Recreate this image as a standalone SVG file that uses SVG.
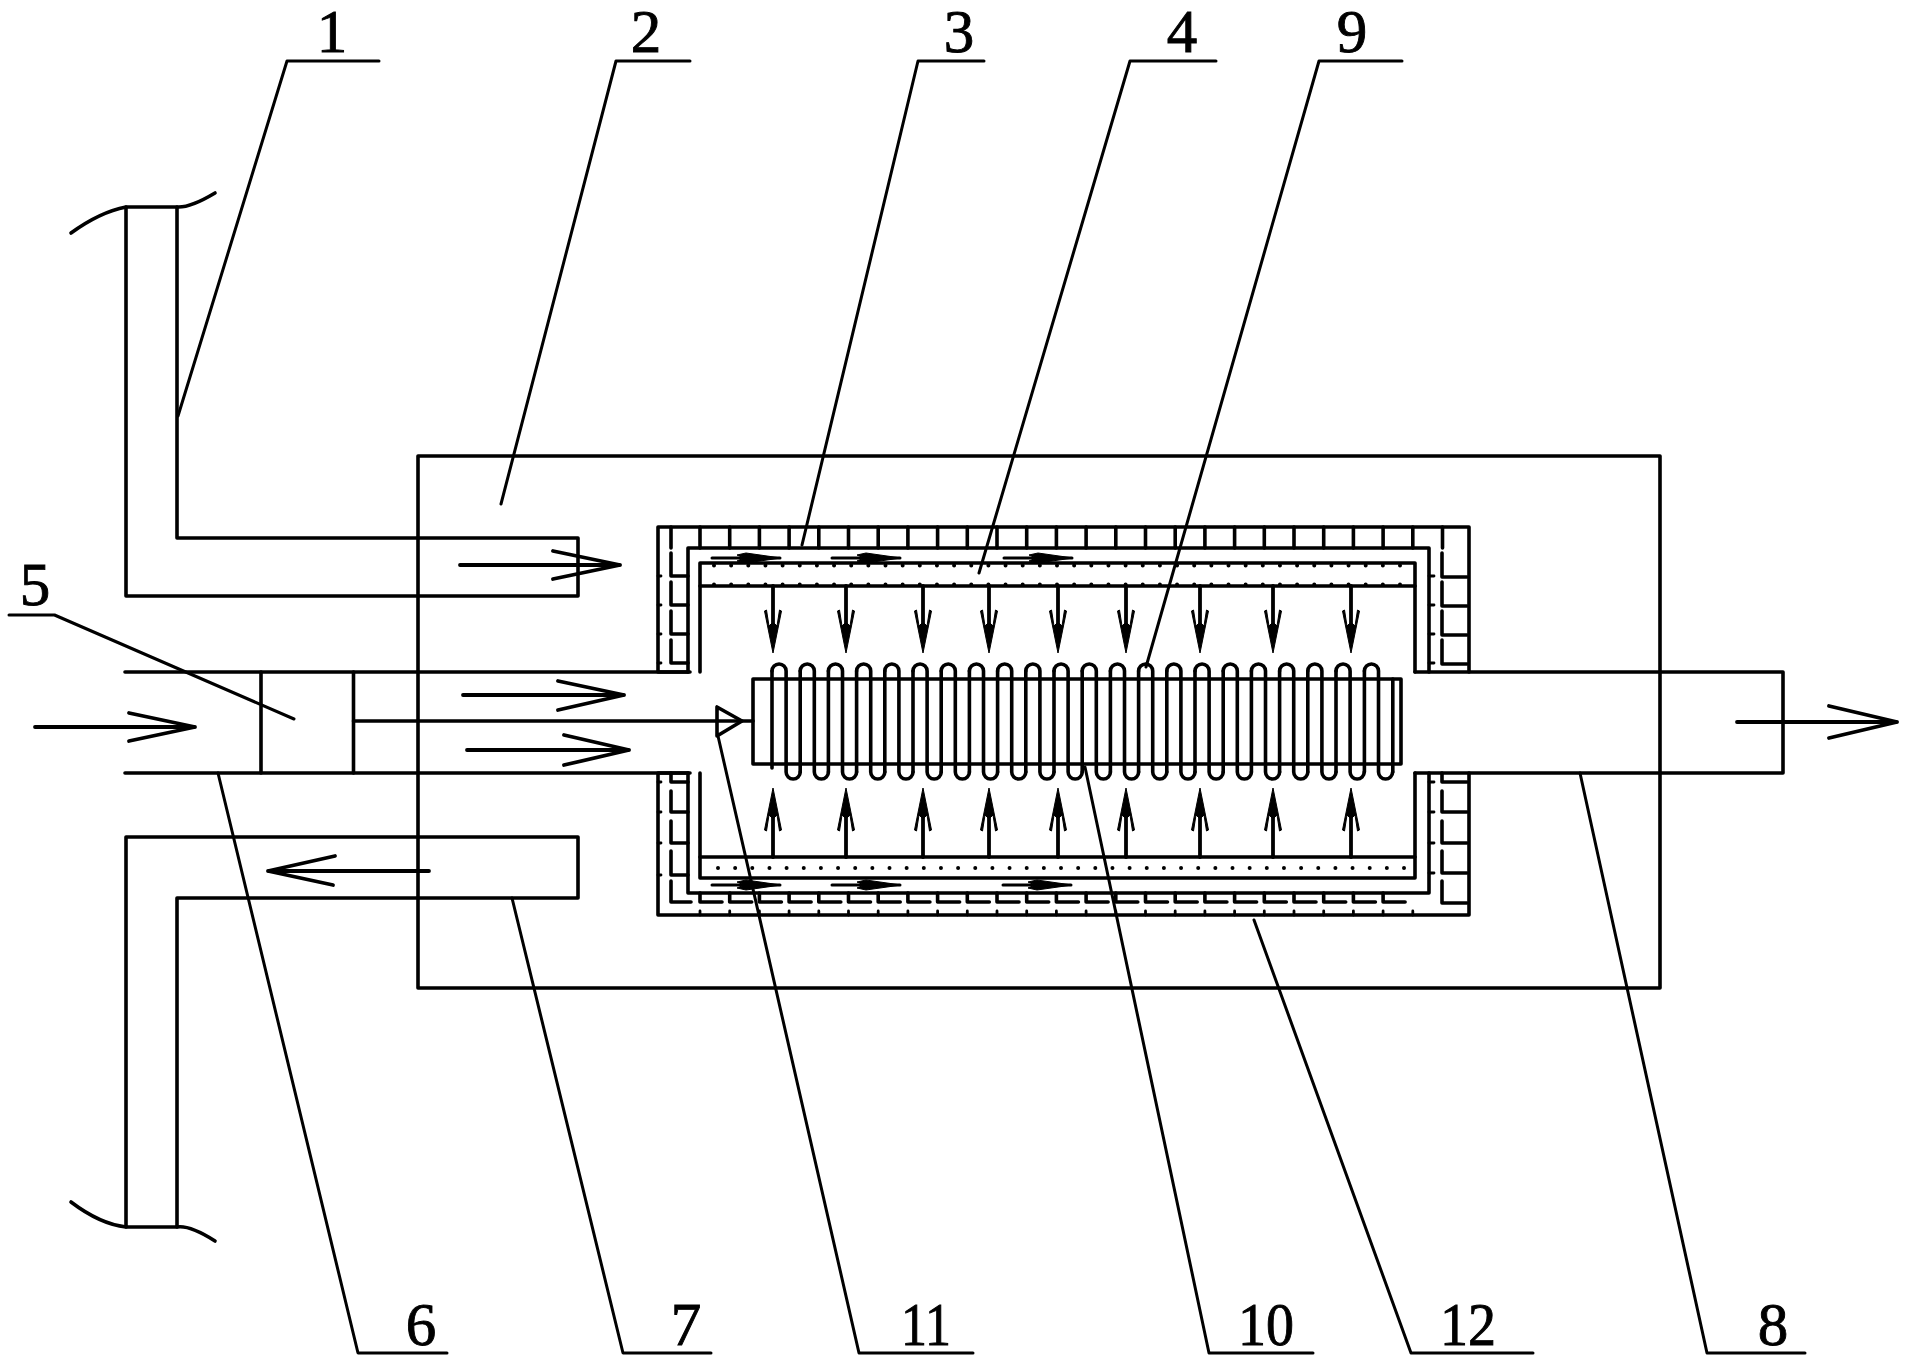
<svg xmlns="http://www.w3.org/2000/svg" width="1915" height="1370" viewBox="0 0 1915 1370">
<style>
.l{fill:none;stroke:#000;stroke-width:3.6;stroke-linecap:round;stroke-linejoin:round}
.t{stroke-width:2.8}
.ld{fill:none;stroke:#000;stroke-width:3;stroke-linecap:round;stroke-linejoin:round}
.ar{fill:none;stroke:#000;stroke-width:3.8;stroke-linecap:round;stroke-linejoin:round}
.d{fill:none;stroke:#000;stroke-width:4;stroke-linecap:round;stroke-dasharray:0 17.15}
.f{fill:#000;stroke:#000;stroke-width:1;stroke-linejoin:round}
.n{font-family:"Liberation Serif","DejaVu Serif",serif;font-size:61px;fill:#000;stroke:#000;stroke-width:.9;text-anchor:middle}
</style>
<defs>
<g id="down"><path class="ar" d="M0 0V50"/><path class="f" d="M0 67L8.500 25L6.500 24L4 40L0 36L-4 40L-6.500 24L-8.500 25Z"/></g>
<g id="up"><path class="ar" d="M0 0V-50"/><path class="f" d="M0 -69L8.500 -27L6.500 -26L4 -42L0 -38L-4 -42L-6.500 -26L-8.500 -27Z"/></g>
<g id="fish"><path class="ar" d="M0 0H68" style="stroke-width:3"/><path class="f" d="M69 0L34 -5L25 -3L32 0L25 3L34 5Z"/></g>
<path id="turns" class="l" d="M0 0a7.050 7.050 0 0 1 14.110 0v101a7.050 7.050 0 0 0 14.110 0"/>
</defs>

<g id="housing"><rect class="l" x="418" y="456" width="1242" height="532"/></g>

<g id="inlet-pipe">
<path class="l" d="M177 207V538H578V596H126V207"/>
<path class="l" d="M71 233Q100 212 126 207H177Q190 208 215 193"/>
</g>
<g id="return-pipe">
<path class="l" d="M126 1227V837H578V898H177V1227"/>
<path class="l" d="M71 1202Q100 1224 126 1227H177Q190 1225 215 1241"/>
</g>
<g id="feed-pipe">
<path class="l" d="M125 672H688M125 773H688"/>
<path class="l" d="M261 672V773M353.500 672V773"/>
<path class="l" d="M353.500 721H753"/>
<path class="l" d="M742 721L717 707V736Z"/>
</g>
<g id="exhaust-pipe">
<path class="l" d="M1415 672H1783V773H1415"/>
</g>

<g id="insulation">
<path class="l" d="M688 672V548H1429V672M688 773V893H1429V773"/>
<path class="l" d="M690 672H658V527H1469V672M690 773H658V915H1469V773"/>
<path class="l" d="M700 527v21m29.700-21v21m29.700-21v21m29.700-21v21m29.700-21v21m29.700-21v21m29.700-21v21m29.700-21v21m29.700-21v21m29.700-21v21m29.700-21v21m29.700-21v21m29.700-21v21m29.700-21v21m29.700-21v21m29.700-21v21m29.700-21v21m29.700-21v21m29.700-21v21m29.700-21v21m29.700-21v21m29.700-21v21m29.700-21v21m29.700-21v21m29.700-21v21m29.700-21v21M671 527v21"/>
<path class="l" d="M671 553v23h17M671 582v23h17M671 611v23h17M671 640v23h17M671 773v9h17M671 791v21h17M671 821v22h17M671 851v24h17M671 881v21h20"/>
<path class="l" d="M1442 553v24h25M1442 582v24h25M1442 611v24h25M1442 640v24h25M1442 773v9h25M1442 791v21h25M1442 821v22h25M1442 851v22h25M1442 881v22h25"/>
<path class="l" d="M700 893v9h22m7.700-9v9h22m7.700-9v9h22m7.700-9v9h22m7.700-9v9h22m7.700-9v9h22m7.700-9v9h22m7.700-9v9h22m7.700-9v9h22m7.700-9v9h22m7.700-9v9h22m7.700-9v9h22m7.700-9v9h22m7.700-9v9h22m7.700-9v9h22m7.700-9v9h22m7.700-9v9h22m7.700-9v9h22m7.700-9v9h22m7.700-9v9h22m7.700-9v9h22m7.700-9v9h22m7.700-9v9h22m7.700-9v9h22"/>
<path class="l t" d="M700 915v-4m29.700 4v-4m29.700 4v-4m29.700 4v-4m29.700 4v-4m29.700 4v-4m29.700 4v-4m29.700 4v-4m29.700 4v-4m29.700 4v-4m29.700 4v-4m29.700 4v-4m29.700 4v-4m29.700 4v-4m29.700 4v-4m29.700 4v-4m29.700 4v-4m29.700 4v-4m29.700 4v-4m29.700 4v-4m29.700 4v-4m29.700 4v-4m29.700 4v-4m29.700 4v-4m29.700 4v-4"/>
<path class="l t" d="M658 576h3M658 605h3M658 634h3M658 663h3M658 782h3M658 812h3M658 843h3M658 875h3M1429 576h5M1429 605h5M1429 634h5M1429 663h5M1429 782h5M1429 812h5M1429 843h5M1429 873h5"/>
</g>

<g id="burner-shell">
<path class="l" d="M700 672V563H1415V672M700 773V878H1415V773"/>
<path class="l" d="M700 586H1415M700 857H1415"/>
<path class="d" d="M714 565.500H1412M714 584.500H1412M718 868H1412"/>
</g>

<g id="heating-coil">
<rect class="l" x="753" y="679" width="648" height="85"/>
<path class="l" d="M772 768V671"/>
<path class="l" d="M1392.800 772V679"/>
<use href="#turns" x="772" y="671"/><use href="#turns" x="800.200" y="671"/><use href="#turns" x="828.400" y="671"/><use href="#turns" x="856.600" y="671"/><use href="#turns" x="884.800" y="671"/><use href="#turns" x="913" y="671"/>
<use href="#turns" x="941.200" y="671"/><use href="#turns" x="969.400" y="671"/><use href="#turns" x="997.600" y="671"/><use href="#turns" x="1025.800" y="671"/><use href="#turns" x="1054" y="671"/><use href="#turns" x="1082.200" y="671"/>
<use href="#turns" x="1110.400" y="671"/><use href="#turns" x="1138.600" y="671"/><use href="#turns" x="1166.800" y="671"/><use href="#turns" x="1195" y="671"/><use href="#turns" x="1223.200" y="671"/><use href="#turns" x="1251.400" y="671"/>
<use href="#turns" x="1279.600" y="671"/><use href="#turns" x="1307.800" y="671"/><use href="#turns" x="1336" y="671"/><use href="#turns" x="1364.400" y="671"/>
<path class="l" d="M800.200 772V671M828.400 772V671M856.600 772V671M884.800 772V671M913 772V671M941.200 772V671M969.400 772V671M997.600 772V671M1025.800 772V671M1054 772V671M1082.200 772V671M1110.400 772V671M1138.600 772V671M1166.800 772V671M1195 772V671M1223.200 772V671M1251.400 772V671M1279.600 772V671M1307.800 772V671M1336 772V671M1364.400 772V671"/>
</g>

<g id="connectors">
<g id="flow-arrows">
<path class="ar" d="M460 565H620M553 551L620 565L553 579"/>
<path class="ar" d="M463 695H624M558 681L624 695L558 710"/>
<path class="ar t" d="M467 750H629M564 735L629 750L564 765"/>
<path class="ar" d="M35 727H195M129 713L195 727L129 741"/>
<path class="ar" d="M429 871H268M335 856L268 871L333 885"/>
<path class="ar t" d="M1737 722H1897M1829 706L1897 722L1829 738"/>
<use href="#down" x="773" y="586"/><use href="#down" x="846" y="586"/><use href="#down" x="923" y="586"/><use href="#down" x="989" y="586"/><use href="#down" x="1058" y="586"/><use href="#down" x="1126" y="586"/><use href="#down" x="1200" y="586"/><use href="#down" x="1273" y="586"/><use href="#down" x="1351" y="586"/>
<use href="#up" x="773" y="857"/><use href="#up" x="846" y="857"/><use href="#up" x="923" y="857"/><use href="#up" x="989" y="857"/><use href="#up" x="1058" y="857"/><use href="#up" x="1126" y="857"/><use href="#up" x="1200" y="857"/><use href="#up" x="1273" y="857"/><use href="#up" x="1351" y="857"/>
<use href="#fish" x="712" y="558"/><use href="#fish" x="832" y="558"/><use href="#fish" x="1004" y="558"/>
<use href="#fish" x="712" y="885"/><use href="#fish" x="832" y="885"/><use href="#fish" x="1003" y="885"/>
</g>
<g id="leaders">
<path class="ld" d="M379 61H287L178 416"/>
<path class="ld" d="M690 61H616L501 504"/>
<path class="ld" d="M984 61H918L802 545"/>
<path class="ld" d="M1216 61H1130L979 573"/>
<path class="ld" d="M1402 61H1319L1146 667"/>
<path class="ld" d="M9 615H54.500L294 719"/>
<path class="ld" d="M218 773L358 1353H447"/>
<path class="ld" d="M512 898L623 1353H711"/>
<path class="ld" d="M718 736L859 1353H973"/>
<path class="ld" d="M1085 767L1209 1353H1313"/>
<path class="ld" d="M1254 920L1411 1353H1533"/>
<path class="ld" d="M1580 773L1707 1353H1805"/>
</g>
</g>

<g id="label-1"><text class="n" x="332" y="52">1</text></g>
<g id="label-2"><text class="n" x="646" y="52">2</text></g>
<g id="label-3"><text class="n" x="959" y="52">3</text></g>
<g id="label-4"><text class="n" x="1182" y="52">4</text></g>
<g id="label-9"><text class="n" x="1352" y="52">9</text></g>
<g id="label-5"><text class="n" x="35" y="605">5</text></g>
<g id="label-6"><text class="n" x="421" y="1345">6</text></g>
<g id="label-7"><text class="n" x="686" y="1345">7</text></g>
<g id="label-11"><text class="n" x="926" y="1345" textLength="50" lengthAdjust="spacingAndGlyphs">11</text></g>
<g id="label-10"><text class="n" x="1266" y="1345" textLength="56" lengthAdjust="spacingAndGlyphs">10</text></g>
<g id="label-12"><text class="n" x="1468" y="1345" textLength="56" lengthAdjust="spacingAndGlyphs">12</text></g>
<g id="label-8"><text class="n" x="1773" y="1345">8</text></g>
</svg>
